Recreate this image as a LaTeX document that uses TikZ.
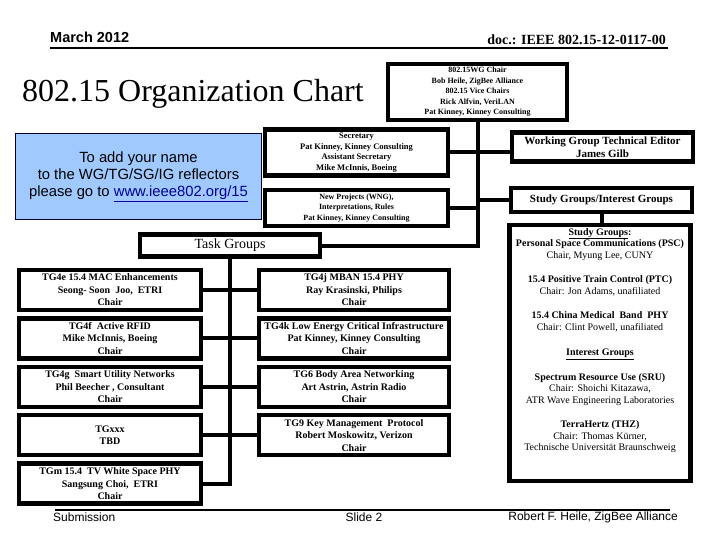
\documentclass[tikz,border=0pt]{standalone}
\usepackage{fontspec}
\setmainfont{Liberation Serif}
\setsansfont{Liberation Sans}
\usepackage{xcolor}
\usepackage{tikz}
\usetikzlibrary{positioning}
\definecolor{noteblue}{RGB}{160,202,255}
\definecolor{linkblue}{RGB}{0,0,150}
\tikzstyle{orgbox} = [rectangle, draw=black, line width=4.5pt, align=center, inner sep=0pt, font=\fontsize{10}{12.5}\selectfont\bfseries]
\tikzstyle{tinybox} = [orgbox, font=\fontsize{8}{10.5}\selectfont\bfseries]
\tikzstyle{tgleft} = [orgbox, minimum width=182pt, minimum height=40pt]
\tikzstyle{tgright} = [orgbox, minimum width=190pt, minimum height=40pt]
\tikzstyle{joint} = [draw=black, line width=4pt]
\tikzstyle{pagerule} = [draw=black, line width=2.5pt]
\tikzstyle{plain} = [inner sep=0pt, font=\sffamily\fontsize{12}{14}\selectfont]

\begin{document}
\begin{tikzpicture}[x=1pt, y=-1pt, node distance=48.4pt]
    \useasboundingbox (0,0) rectangle (720,540);

    \node (date) [plain, anchor=base west, font=\sffamily\bfseries\fontsize{14.5}{16}\selectfont] at (50,43) {March 2012};
    \node (doc) [plain, anchor=base east, font=\bfseries\fontsize{14}{16}\selectfont] at (666,45) {doc.: IEEE 802.15-12-0117-00};
    \coordinate (hl) at (50,48);
    \coordinate (hr) at (668,48);
    \draw [pagerule] (hl) -- (hr);
    \node (title) [plain, anchor=base west, font=\fontsize{32}{36}\selectfont] at (22,102) {802.15 Organization Chart};

    \node (wg) [tinybox, minimum width=179pt, minimum height=56pt] at (477.5,92) {802.15WG Chair\\Bob Heile, ZigBee Alliance\\802.15 Vice Chairs\\Rick Alfvin, VeriLAN\\Pat Kinney, Kinney Consulting};
    \node (note) [rectangle, draw=black!80!blue, line width=1.5pt, fill=noteblue, minimum width=246pt, minimum height=86pt, align=center, font=\sffamily\fontsize{14.8}{17}\selectfont] at (138.5,176.5) {To add your name\\to the WG/TG/SG/IG reflectors\\please go to \textcolor{linkblue}{\underline{www.ieee802.org/15}}};
    \node (sec) [orgbox, font=\fontsize{8.5}{10.5}\selectfont\bfseries, minimum width=183pt, minimum height=46pt] at (356.5,152.5) {Secretary\\Pat Kinney, Kinney Consulting\\Assistant Secretary\\Mike McInnis, Boeing};
    \node (np) [tinybox, minimum width=183pt, minimum height=36pt] at (356.5,208) {New Projects (WNG),\\Interpretations, Rules\\Pat Kinney, Kinney Consulting};
    \node (editor) [orgbox, font=\fontsize{11}{13}\selectfont\bfseries, minimum width=181pt, minimum height=29pt] at (602.5,147) {Working Group Technical Editor\\James Gilb};
    \node (sgig) [orgbox, font=\fontsize{11}{13}\selectfont\bfseries, minimum width=181pt, minimum height=24pt] at (601.5,200) {Study Groups/Interest Groups};
    \node (study) [orgbox, minimum width=181pt, minimum height=256pt] at (600,353) {};
    \node (studytext) [plain, anchor=north, align=center, font=\fontsize{10}{11.5}\selectfont] at (600,228) {\textbf{\underline{Study Groups}:}\\
        \textbf{Personal Space Communications (PSC)}\\
        Chair, Myung Lee, CUNY\\[13pt]
        \textbf{15.4 Positive Train Control (PTC)}\\
        Chair: Jon Adams, unafiliated\\[13pt]
        \textbf{15.4 China Medical\ \ Band\ \ PHY}\\
        Chair: Clint Powell, unafiliated\\[14pt]
        \textbf{\underline{Interest Groups}}\\[13pt]
        \textbf{Spectrum Resource Use (SRU)}\\
        Chair: Shoichi Kitazawa,\\
        ATR Wave Engineering Laboratories\\[13pt]
        \textbf{TerraHertz (THZ)}\\
        Chair: Thomas Kürner,\\
        Technische Universität Braunschweig};

    \node (tg) [orgbox, font=\fontsize{14}{16}\selectfont, minimum width=180pt, minimum height=22pt] at (230,245.5) {Task Groups};

    \node (tg4e) [tgleft] at (110,290) {TG4e 15.4 MAC Enhancements\\Seong- Soon\ \ Joo,\ \ ETRI\\Chair};
    \node (tg4f) [tgleft, below of=tg4e] {TG4f\ \ Active RFID\\Mike McInnis, Boeing\\Chair};
    \node (tg4g) [tgleft, below of=tg4f] {TG4g\ \ Smart Utility Networks\\Phil Beecher , Consultant\\Chair};
    \node (tgxxx) [tgleft, below of=tg4g] {TGxxx\\TBD};
    \node (tgm) [tgleft, below of=tgxxx] {TGm 15.4\ \ TV White Space PHY\\Sangsung Choi,\ \ ETRI\\Chair};

    \node (tg4j) [tgright] at (354,290) {TG4j MBAN 15.4 PHY\\Ray Krasinski, Philips\\Chair};
    \node (tg4k) [tgright, below of=tg4j] {TG4k Low Energy Critical Infrastructure\\Pat Kinney, Kinney Consulting\\Chair};
    \node (tg6) [tgright, below of=tg4k] {TG6 Body Area Networking\\Art Astrin, Astrin Radio\\Chair};
    \node (tg9) [tgright, below of=tg6] {TG9 Key Management\ \ Protocol\\Robert Moskowitz, Verizon\\Chair};

    \draw [joint] (wg.south) -- (wg.south |- tg.east) -- (tg.east);
    \draw [joint] (sec.east) -- (sec.east -| editor.west);
    \draw [joint] (np.east) -- (np.east -| wg.south);
    \draw [joint] (sgig.west -| wg.south) -- (sgig.west);
    \draw [joint] (sgig.south) -- (sgig.south |- study.north);
    \draw [joint] (tg.south) -- (tg.south |- tgm.east) -- (tgm.east);
    \draw [joint] (tg4e.east) -- (tg4j.west);
    \draw [joint] (tg4f.east) -- (tg4k.west);
    \draw [joint] (tg4g.east) -- (tg6.west);
    \draw [joint] (tgxxx.east) -- (tg9.west);

    \coordinate (fl) at (55,510);
    \coordinate (fr) at (670,510);
    \draw [pagerule] (fl) -- (fr);
    \node (sub) [plain, anchor=west] at (53,517) {Submission};
    \node (slide) [plain] at (364,517) {Slide 2};
    \node (author) [plain, anchor=east] at (678,517) {Robert F. Heile, ZigBee Alliance};
\end{tikzpicture}
\end{document}
